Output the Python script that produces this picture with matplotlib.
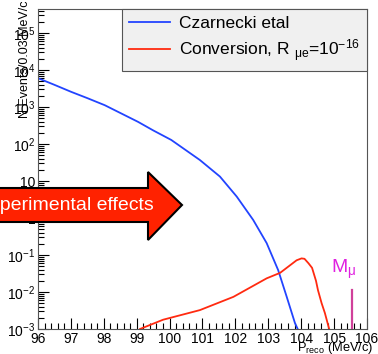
import numpy as np
import matplotlib
matplotlib.use("Agg")
from matplotlib import pyplot as plt
from matplotlib.patches import Polygon
from matplotlib.ticker import MultipleLocator, LogLocator, FixedLocator, FixedFormatter, NullFormatter

plt.rcParams['font.family'] = ['Liberation Sans', 'DejaVu Sans']
plt.rcParams['mathtext.fontset'] = 'custom'
plt.rcParams['mathtext.rm'] = 'Liberation Sans'
plt.rcParams['mathtext.it'] = 'Liberation Sans:italic'

# Czarnecki et al. decay-in-orbit spectrum
p_dio = [96.0, 96.5, 97.01, 97.5, 98.03, 98.5, 99.04, 99.5, 100.05, 100.92,
         101.53, 102.04, 102.54, 102.95, 103.30, 103.56, 103.81, 103.91, 103.98]
n_dio = [6030, 3980, 2570, 1740, 1120, 692, 398, 234, 129, 37.0,
         13.2, 3.8, 0.89, 0.21, 0.039, 0.0074, 0.00145, 0.00093, 0.0006]

# conversion signal, R_mue = 1e-16
p_conv = [99.1, 99.8, 100.92, 101.94, 102.95, 103.36, 103.86, 104.01, 104.1,
          104.22, 104.33, 104.45, 104.51, 104.62, 104.72, 104.85, 104.9]
n_conv = [0.001, 0.00178, 0.00324, 0.0074, 0.0234, 0.033, 0.072, 0.081, 0.079,
          0.060, 0.045, 0.02, 0.0112, 0.005, 0.0027, 0.001, 0.0006]

m_mu = 105.55
ytick_vals = [1e-3, 1e-2, 1e-1, 1, 10, 1e2, 1e3, 1e4, 1e5]
ytick_labels = ['10$^{-3}$', '10$^{-2}$', '10$^{-1}$', '1', '10',
                '10$^{2}$', '10$^{3}$', '10$^{4}$', '10$^{5}$']

W, H = 378, 354
fig = plt.figure(figsize=(W / 100, H / 100), dpi=100)
ax = fig.add_axes([38 / W, 1 - 329 / H, (367 - 38) / W, (329 - 9) / H])

ax.plot(p_dio, n_dio, color='#2244ff', lw=1.3, label='Czarnecki etal')
ax.plot(p_conv, n_conv, color='#ff2a10', lw=1.3,
        label=r'Conversion, R $_{\mathrm{\mu e}}$=10$^{-16}$')
ax.plot([m_mu, m_mu], [1e-3, 0.011], color='#d0409a', lw=1.6)
ax.text(m_mu - 0.25, 0.02, r'M$_{\mathrm{\mu}}$', color='#e020e0', fontsize=14,
        ha='center', va='bottom')

ax.set_yscale('log')
ax.set_xlim(96, 106)
ax.set_ylim(1e-3, 10 ** 5.65)

ax.xaxis.set_major_locator(MultipleLocator(1))
ax.xaxis.set_minor_locator(MultipleLocator(0.2))
ax.yaxis.set_major_locator(FixedLocator(ytick_vals))
ax.yaxis.set_major_formatter(FixedFormatter(ytick_labels))
ax.yaxis.set_minor_locator(LogLocator(base=10, subs=np.arange(2, 10)))
ax.yaxis.set_minor_formatter(NullFormatter())
ax.tick_params(which='both', direction='in', top=False, right=False,
               labelsize=10, pad=2, width=0.8)
ax.tick_params(which='major', length=8)
ax.tick_params(which='minor', length=4)
for s in ax.spines.values():
    s.set_color('#555555')

leg = ax.legend(loc='upper right', bbox_to_anchor=(1.0, 1.0), borderaxespad=0,
                fontsize=12.5, fancybox=False, edgecolor='#555555',
                facecolor='#f0f0f0', framealpha=1, handlelength=2.4,
                handletextpad=0.5, labelspacing=0.35, borderpad=0.4)
leg.get_frame().set_linewidth(0.8)

fig.text(25 / W, 1 - 118 / H, 'N Events/0.03 MeV/c', rotation=90,
         ha='center', va='bottom', fontsize=9)
fig.text(297 / W, 1 - 340 / H, r'P$_{\mathrm{reco}}$ (MeV/c)',
         ha='left', va='top', fontsize=9.3)

# big red arrow
pts = [(-20, 188), (148, 188), (148, 172), (182, 205), (148, 240), (148, 222), (-20, 222)]
pts = [(x / W, 1 - y / H) for x, y in pts]
fig.patches.append(Polygon(pts, closed=True, facecolor='#ff2200', edgecolor='black',
                           lw=1.5, transform=fig.transFigure, zorder=5))
fig.text(154 / W, 1 - 206 / H, 'Experimental effects', color='white', fontsize=14,
         ha='right', va='center', zorder=6)

fig.savefig('out.png', dpi=100)
